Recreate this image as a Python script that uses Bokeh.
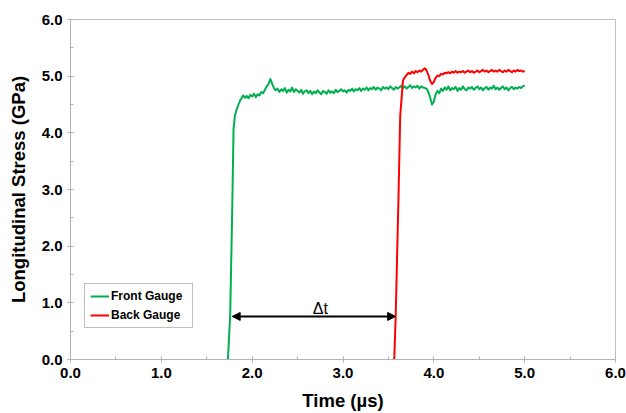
from bokeh.plotting import figure
from bokeh.models import (Range1d, SingleIntervalTicker, NumeralTickFormatter, Legend, LegendItem,
                          Arrow, NormalHead, Label)
from bokeh.embed import file_html
from bokeh.resources import INLINE
import numpy as np

# ---------------- data ----------------
front_rise_t = [1.72, 1.733, 1.758, 1.78, 1.795, 1.81, 1.83, 1.85, 1.87]
front_rise_v = [0.0, 0.0, 0.78, 2.60, 4.07, 4.30, 4.42, 4.50, 4.58]
front_plateau_start = 1.88
front_plateau_step = 0.02
front_plateau_v = [
    4.60, 4.66, 4.62, 4.65, 4.61, 4.67, 4.64, 4.69, 4.63, 4.68,
    4.66, 4.72, 4.70, 4.76, 4.82, 4.86, 4.95, 4.87, 4.79, 4.75,
    4.78, 4.72, 4.77, 4.74, 4.79, 4.71, 4.76, 4.73, 4.80, 4.72,
    4.77, 4.74, 4.71, 4.76, 4.69, 4.73, 4.75, 4.70, 4.74, 4.68,
    4.73, 4.70, 4.75, 4.71, 4.68, 4.74, 4.72, 4.69, 4.75, 4.71,
    4.73, 4.70, 4.76, 4.72, 4.74, 4.77, 4.73, 4.75, 4.71, 4.76,
    4.74, 4.78, 4.73, 4.77, 4.75, 4.79, 4.74, 4.78, 4.76, 4.80,
    4.75, 4.79, 4.77, 4.81, 4.76, 4.80, 4.78, 4.75, 4.81, 4.78,
    4.80, 4.77, 4.82, 4.79, 4.76, 4.81, 4.78, 4.80, 4.83, 4.79,
    4.82, 4.78, 4.81, 4.84, 4.79, 4.82, 4.80, 4.83, 4.78, 4.82,
    4.80, 4.79, 4.78, 4.72, 4.62, 4.50, 4.55, 4.68, 4.74, 4.70,
    4.78, 4.74, 4.80, 4.76, 4.82, 4.75, 4.79, 4.77, 4.81, 4.74,
    4.79, 4.76, 4.82, 4.77, 4.75, 4.80, 4.78, 4.81, 4.76, 4.79,
    4.82, 4.77, 4.80, 4.75, 4.79, 4.81, 4.76, 4.80, 4.78, 4.83,
    4.77, 4.80, 4.76, 4.79, 4.82, 4.77, 4.80, 4.75, 4.79, 4.81,
    4.77, 4.80, 4.78, 4.81, 4.79, 4.82, 4.84,
]

back_rise_t = [3.55, 3.564, 3.58, 3.61, 3.63, 3.66, 3.68]
back_rise_v = [0.0, 0.0, 0.76, 2.80, 4.30, 4.92, 4.98]
back_plateau_start = 3.70
back_plateau_step = 0.02
back_plateau_v = [
    5.02, 5.06, 5.04, 5.08, 5.05, 5.09, 5.07, 5.10, 5.08, 5.11,
    5.14, 5.10, 5.02, 4.92, 4.86, 4.90, 4.97, 5.01, 5.00, 5.04,
    5.03, 5.06, 5.05, 5.07, 5.05, 5.08, 5.06, 5.09, 5.06, 5.08,
    5.07, 5.09, 5.06, 5.08, 5.10, 5.07, 5.09, 5.06, 5.08, 5.10,
    5.07, 5.09, 5.11, 5.08, 5.10, 5.07, 5.09, 5.11, 5.08, 5.10,
    5.08, 5.11, 5.09, 5.07, 5.10, 5.08, 5.11, 5.09, 5.07, 5.10,
    5.08, 5.11, 5.09, 5.10, 5.08, 5.09,
]

series_names = ["Front Gauge", "Back Gauge"]
x_title = "Time (µs)"
y_title = "Longitudinal Stress (GPa)"
delta_label = "Δt"
arrow_x = [1.78, 3.58]
arrow_y = 0.76
delta_pos = (2.75, 0.90)

# ---------------- build ----------------
front_t = list(front_rise_t) + list(np.round(front_plateau_start + front_plateau_step * np.arange(len(front_plateau_v)), 3))
front_v = list(front_rise_v) + list(front_plateau_v)
back_t = list(back_rise_t) + list(np.round(back_plateau_start + back_plateau_step * np.arange(len(back_plateau_v)), 3))
back_v = list(back_rise_v) + list(back_plateau_v)

FONT = "Liberation Sans"
GRAY = "#b3b3b3"

p = figure(width=626, height=413, output_backend="svg", toolbar_location=None,
           x_range=Range1d(0, 6), y_range=Range1d(0, 6),
           min_border_left=70, min_border_right=11, min_border_top=19, min_border_bottom=54)
p.background_fill_color = "white"
p.border_fill_color = "white"
p.outline_line_color = "#bfbfbf"
p.outline_line_width = 1
p.xgrid.visible = False
p.ygrid.visible = False

for ax in (p.xaxis[0], p.yaxis[0]):
    ax.ticker = SingleIntervalTicker(interval=1, num_minor_ticks=2)
    ax.formatter = NumeralTickFormatter(format="0.0")
    ax.axis_line_color = GRAY
    ax.major_tick_line_color = GRAY
    ax.minor_tick_line_color = GRAY
    ax.major_tick_in = 3
    ax.major_tick_out = 3
    ax.minor_tick_in = 3
    ax.minor_tick_out = 0
    ax.major_label_text_font = FONT
    ax.major_label_text_font_style = "bold"
    ax.major_label_text_font_size = "15px"
    ax.major_label_text_color = "black"
    ax.axis_label_text_font = FONT
    ax.axis_label_text_font_style = "bold"
    ax.axis_label_text_font_size = "18.5px"
    ax.axis_label_text_color = "black"

p.xaxis.axis_label = x_title
p.yaxis.axis_label = y_title
p.xaxis.major_label_standoff = 5
p.xaxis.axis_label_standoff = 9
p.yaxis.major_label_standoff = 5
p.yaxis.axis_label_standoff = 10

r_front = p.line(front_t, front_v, line_color="#00b050", line_width=2, line_join="round")
r_back = p.line(back_t, back_v, line_color="#ff0000", line_width=2, line_join="round")

legend = Legend(items=[LegendItem(label=series_names[0], renderers=[r_front]),
                       LegendItem(label=series_names[1], renderers=[r_back])],
                location=(14, 31), orientation="vertical")
legend.label_text_font = FONT
legend.label_text_font_style = "bold"
legend.label_text_font_size = "12px"
legend.label_text_color = "black"
legend.border_line_color = "#7f7f7f"
legend.border_line_width = 1
legend.background_fill_alpha = 1
legend.padding = 5
legend.spacing = 5
legend.margin = 0
legend.glyph_width = 19
legend.glyph_height = 12
legend.label_height = 12
legend.label_width = 76
legend.label_standoff = 2
p.add_layout(legend)

arrow = Arrow(start=NormalHead(size=8, fill_color="black", line_color="black"),
              end=NormalHead(size=8, fill_color="black", line_color="black"),
              x_start=arrow_x[0], y_start=arrow_y, x_end=arrow_x[1], y_end=arrow_y,
              line_color="black", line_width=2)
p.add_layout(arrow)

lbl = Label(x=delta_pos[0], y=delta_pos[1], text=delta_label, text_align="center",
            text_baseline="alphabetic", text_font=FONT, text_font_size="16px", text_color="black")
p.add_layout(lbl)

open("out.html", "w").write(file_html(p, INLINE))
